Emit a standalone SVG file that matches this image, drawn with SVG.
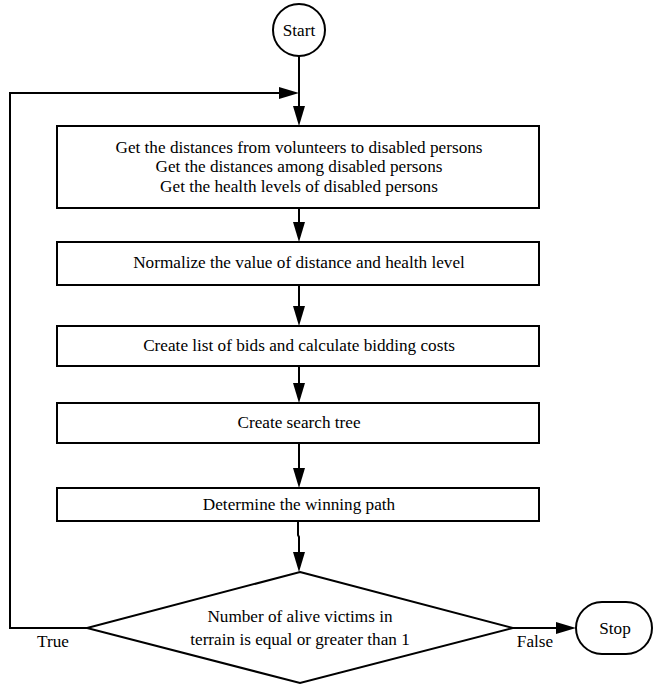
<svg xmlns="http://www.w3.org/2000/svg" width="654" height="685" viewBox="0 0 654 685">
<style>
.box{fill:#fff;stroke:#000;stroke-width:2}
.c{fill:none;stroke:#000;stroke-width:2}
</style>
<defs>
<marker id="ah" markerUnits="userSpaceOnUse" markerWidth="20" markerHeight="12" refX="0" refY="6" orient="auto" overflow="visible">
<path d="M0,0 L20,6 L0,12 z" fill="#000"/>
</marker>
</defs>
<rect width="654" height="685" fill="#fff"/>
<g font-family="'Liberation Serif', 'Times New Roman', 'DejaVu Serif', serif" font-size="17.2" fill="#000" text-anchor="middle">
<g id="connectors">
<line class="c" x1="299" y1="56" x2="299" y2="106" marker-end="url(#ah)"/>
<polyline class="c" points="87,628 10,628 10,93 279,93" marker-end="url(#ah)"/>
<line class="c" x1="299" y1="208" x2="299" y2="222" marker-end="url(#ah)"/>
<line class="c" x1="299" y1="285" x2="299" y2="306" marker-end="url(#ah)"/>
<line class="c" x1="299" y1="366" x2="299" y2="383" marker-end="url(#ah)"/>
<line class="c" x1="299" y1="443" x2="299" y2="468" marker-end="url(#ah)"/>
<polyline class="c" points="298,521 298,535 299,537 299,552" marker-end="url(#ah)"/>
<line class="c" x1="513" y1="628" x2="556" y2="628" marker-end="url(#ah)"/>
<text x="53" y="647">True</text>
<text x="535" y="647">False</text>
</g>
<g id="start">
<circle class="box" cx="299" cy="30" r="26"/>
<text x="299" y="36">Start</text>
</g>
<g id="get-data">
<rect class="box" x="57" y="126" width="482" height="82"/>
<text x="299" y="153">Get the distances from volunteers to disabled persons</text>
<text x="299" y="172">Get the distances among disabled persons</text>
<text x="299" y="192">Get the health levels of disabled persons</text>
</g>
<g id="normalize">
<rect class="box" x="57" y="242" width="482" height="43"/>
<text x="299" y="268">Normalize the value of distance and health level</text>
</g>
<g id="bids">
<rect class="box" x="57" y="326" width="482" height="40"/>
<text x="299" y="351">Create list of bids and calculate bidding costs</text>
</g>
<g id="tree">
<rect class="box" x="57" y="403" width="482" height="40"/>
<text x="299" y="428">Create search tree</text>
</g>
<g id="winning">
<rect class="box" x="57" y="488" width="482" height="33"/>
<text x="299" y="510">Determine the winning path</text>
</g>
<g id="decision">
<polygon class="box" points="300,572 513,628 300,683 87,628"/>
<text x="300" y="622">Number of alive victims in</text>
<text x="300" y="645">terrain is equal or greater than 1</text>
</g>
<g id="stop">
<rect class="box" x="576" y="602" width="76" height="52" rx="26" ry="26"/>
<text x="615" y="634">Stop</text>
</g>
</g>
</svg>
